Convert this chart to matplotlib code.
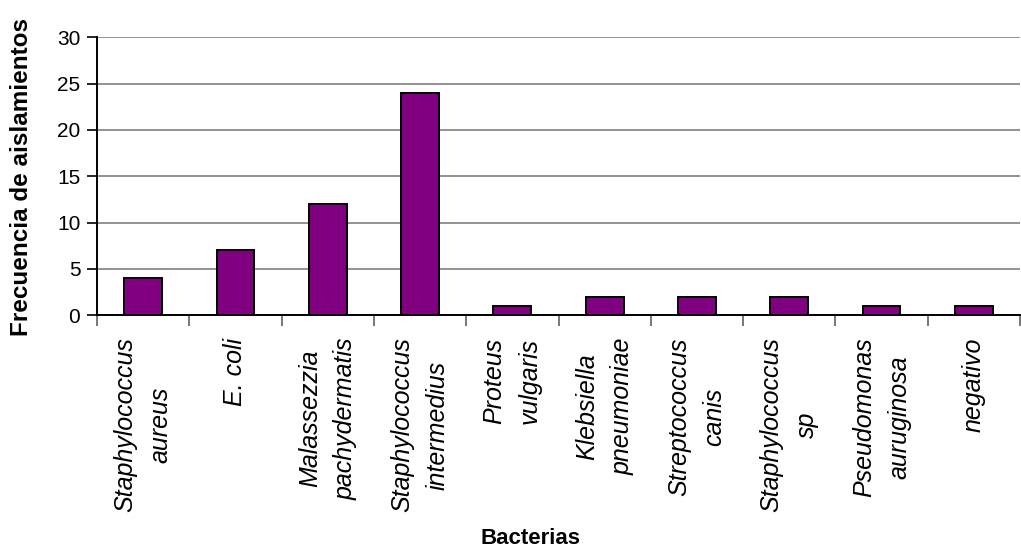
import matplotlib
matplotlib.use("Agg")
import matplotlib.pyplot as plt
import numpy as np

categories = [
    "Staphylococcus\naureus",
    "E. coli",
    "Malassezzia\npachydermatis",
    "Staphylococcus\nintermedius",
    "Proteus\nvulgaris",
    "Klebsiella\npneumoniae",
    "Streptococcus\ncanis",
    "Staphylococcus\nsp",
    "Pseudomonas\nauruginosa",
    "negativo",
]
frecuencias = [4, 7, 12, 24, 1, 2, 2, 2, 1, 1]
y_ticks = [0, 5, 10, 15, 20, 25, 30]

plt.rcParams["font.family"] = ["Liberation Sans", "DejaVu Sans"]

W, H = 1021, 554
fig = plt.figure(figsize=(W / 100, H / 100), dpi=100)
ax = fig.add_axes([97 / W, 1 - 315.3 / H, (1020 - 97) / W, (315.3 - 37.3) / H])

x = np.arange(len(categories))
ax.bar(x, frecuencias, width=0.41, color="#800080", edgecolor="black",
       linewidth=1.4, zorder=3)

ax.set_xlim(-0.5, len(categories) - 0.5)
ax.set_ylim(0, 30)
ax.set_yticks(y_ticks)
ax.yaxis.grid(True, color="#808080", linewidth=1.2, zorder=0)
ax.tick_params(axis="y", labelsize=15, length=7, width=1.2, pad=5, color="black")

# category labels at centres, tick marks at category boundaries
ax.set_xticks(x)
ax.set_xticklabels(categories, rotation=90, fontsize=18, style="italic",
                   ha="center", va="top", multialignment="center",
                   linespacing=1.6)
ax.tick_params(axis="x", which="major", length=0, pad=16)
ax.set_xticks(np.arange(-0.5, len(categories)), minor=True)
ax.tick_params(axis="x", which="minor", length=8, width=1.2, color="#606060")

for side in ("top", "right"):
    ax.spines[side].set_visible(False)
ax.spines["left"].set_linewidth(1.4)
ax.spines["bottom"].set_linewidth(1.4)
ax.spines["left"].set_zorder(4)
ax.spines["bottom"].set_zorder(4)

fig.text(22 / W, 1 - 177 / H, "Frecuencia de aislamientos", rotation=90,
         ha="center", va="center", fontsize=17.5, fontweight="bold")
fig.text(530 / W, 1 - 539 / H, "Bacterias", ha="center", va="center",
         fontsize=16, fontweight="bold")

fig.savefig("out.png", dpi=100)
